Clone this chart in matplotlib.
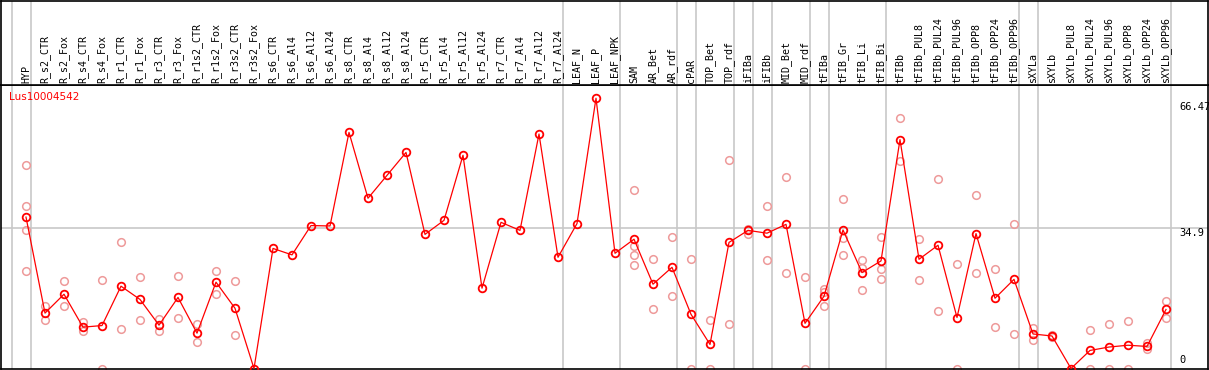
import matplotlib
matplotlib.use("Agg")
import matplotlib.pyplot as plt
from matplotlib import transforms

# sample names, in plot order
samples = ["HYP", "R_s2_CTR", "R_s2_Fox", "R_s4_CTR", "R_s4_Fox", "R_r1_CTR", "R_r1_Fox",
           "R_r3_CTR", "R_r3_Fox", "R_r1s2_CTR", "R_r1s2_Fox", "R_r3s2_CTR", "R_r3s2_Fox",
           "R_s6_CTR", "R_s6_Al4", "R_s6_Al12", "R_s6_Al24", "R_s8_CTR", "R_s8_Al4",
           "R_s8_Al12", "R_s8_Al24", "R_r5_CTR", "R_r5_Al4", "R_r5_Al12", "R_r5_Al24",
           "R_r7_CTR", "R_r7_Al4", "R_r7_Al12", "R_r7_Al24", "LEAF_N", "LEAF_P", "LEAF_NPK",
           "SAM", "AR_Bet", "AR_rdf", "cPAR", "TOP_Bet", "TOP_rdf", "iFIBa", "iFIBb",
           "MID_Bet", "MID_rdf", "tFIBa", "tFIB_Gr", "tFIB_Li", "tFIB_Bi", "tFIBb",
           "tFIBb_PUL8", "tFIBb_PUL24", "tFIBb_PUL96", "tFIBb_OPP8", "tFIBb_OPP24",
           "tFIBb_OPP96", "sXYLa", "sXYLb", "sXYLb_PUL8", "sXYLb_PUL24", "sXYLb_PUL96",
           "sXYLb_OPP8", "sXYLb_OPP24", "sXYLb_OPP96"]

# mean expression per sample
means = [37.7, 13.8, 18.5, 10.3, 10.7, 20.5, 17.2, 10.8, 17.7, 8.8, 21.5, 15.0, 0.0,
         29.9, 28.3, 35.6, 35.5, 58.8, 42.4, 48.1, 53.8, 33.4, 36.9, 53.1, 20.0,
         36.4, 34.4, 58.4, 27.7, 36.1, 67.3, 28.7,
         32.2, 21.0, 25.2, 13.5, 6.0, 31.4, 34.4, 33.7, 35.9, 11.25, 18.0, 34.5, 23.9,
         26.8, 57.0, 27.2, 30.7, 12.7, 33.6, 17.5, 22.2, 8.6, 8.1, 0.0, 4.5, 5.35, 5.8,
         5.5, 14.7]

# individual replicates (empty = only the mean was shown)
replicates = [[50.8, 40.4, 34.4, 24.4], [15.6, 12.1], [21.8, 15.6], [11.6, 9.3],
              [22.0, 0.0], [31.4, 9.8], [22.7, 12.1], [12.4, 9.3], [23.0, 12.7],
              [11.0, 6.6], [24.4, 18.5], [21.8, 8.3], [],
              [], [], [], [], [], [], [], [], [], [], [], [], [], [], [], [],
              [], [], [],
              [44.4, 30.6, 28.2, 25.7], [27.2, 14.8], [32.7, 18.0], [27.2, 0.0],
              [12.2, 0.0], [51.8, 11.2], [34.7, 33.6], [40.4, 26.9], [47.8, 23.7],
              [22.9, 0.0], [19.8, 19.0, 15.5], [42.2, 32.6, 28.2], [26.9, 25.0, 19.5],
              [32.7, 24.9, 22.4], [62.3, 51.7], [32.2, 22.0], [47.1, 14.3], [26.0, 0.0],
              [43.1, 23.9], [24.7, 10.3], [35.9, 8.5], [10.0, 7.1], [8.3, 7.9], [],
              [9.6, 0.0], [11.0, 0.0], [11.8, 0.0], [6.3, 4.8], [16.7, 12.5]]

# the sample after which a grey separator is drawn
group_ends = [-1, 0, 28, 31, 34, 35, 37, 38, 39, 41, 42, 45, 52, 53, 60]

ytick_vals = [0, 34.9, 66.47]
gene = "Lus10004542"

W, H = 1209, 370
fig = plt.figure(figsize=(W / 100, H / 100), dpi=100)
ax = fig.add_axes([1 / W, 1 / H, 1207 / W, 284 / H])
axl = fig.add_axes([1 / W, 285 / H, 1207 / W, 84 / H], sharex=ax)

x = list(range(len(samples)))
ax.set_xlim(-25 / 19, 1182 / 19)
ax.set_ylim(-0.12, 70.6)
axl.set_ylim(0, 84)

for a in (ax, axl):
    a.set_xticks([])
    a.set_yticks([])
    for s in a.spines.values():
        s.set_color("black")
        s.set_linewidth(1.2)
    for g in group_ends:
        a.axvline(g + 0.25, color="#c8c8c8", lw=1.2, zorder=0)

ax.axhline(34.9, color="#c8c8c8", lw=1.2, zorder=0)

# replicates
for i, reps in enumerate(replicates):
    if reps:
        ax.plot([i] * len(reps), reps, "o", ms=5.5, mfc="none", mec="#ee9a9a",
                mew=1.1, zorder=2)

# means
ax.plot(x, means, "-", color="red", lw=0.9, zorder=3)
ax.plot(x, means, "o", ms=5.5, mfc="none", mec="red", mew=1.3, zorder=4)

ax.text(8 / 1207, 1 - 7 / 284, gene, transform=ax.transAxes, color="red",
        fontsize=7.5, ha="left", va="top", family="DejaVu Sans")

tr = transforms.blended_transform_factory(ax.transAxes, ax.transData)
for v in ytick_vals:
    lab = ("%g" % v)
    ax.text(1178 / 1207, v if v > 0 else 0.8, lab, transform=tr, fontsize=7.5,
            family="DejaVu Sans Mono", ha="left", va="top" if v > 0 else "bottom")

for i, name in enumerate(samples):
    axl.text(i, 2, name, rotation=90, ha="center", va="bottom", fontsize=7.2,
             family="DejaVu Sans Mono")

fig.savefig("out.png", dpi=100)
